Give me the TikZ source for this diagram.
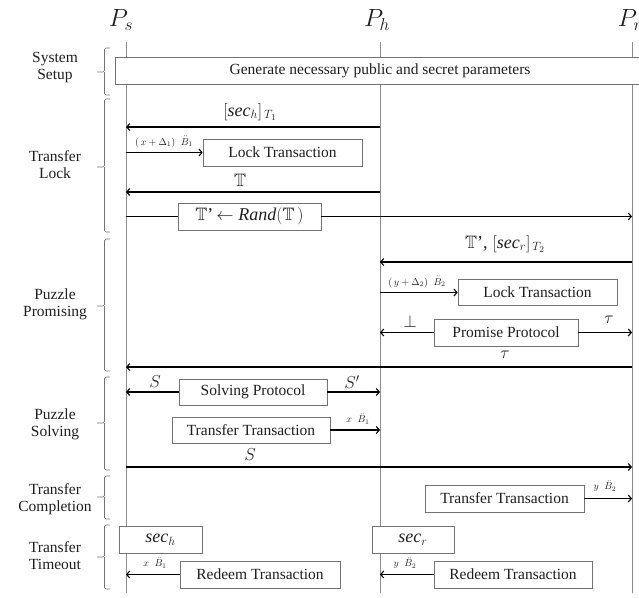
\documentclass[tikz,border=0pt]{standalone}
\usepackage{amssymb}
\usepackage{fontspec}
\setmainfont{Liberation Serif}
\usetikzlibrary{arrows.meta}
\definecolor{lifec}{gray}{0.55}
\definecolor{boxc}{gray}{0.45}
\definecolor{txtc}{gray}{0.12}
\newcommand\fsbox{\fontsize{15.5}{17}\selectfont}
\newcommand\fsmath{\fontsize{18}{20}\selectfont}
\newcommand\fssmall{\fontsize{10}{11}\selectfont}
\newcommand\fshead{\fontsize{24}{28}\selectfont}
\newcommand\Bd[1]{\ddot{B}_{#1}}
\tikzset{
  lifeline/.style={draw=lifec, line width=0.8pt},
  msg/.style={-{Straight Barb[length=3pt,width=7pt]}, line width=1.1pt, draw=black},
  plain/.style={line width=1.1pt, draw=black},
  box/.style={draw=boxc, line width=0.7pt, fill=white, minimum height=26.5pt, inner sep=0pt, font=\fsbox, text=txtc},
  phase/.style={font=\fsbox, align=center, text=txtc},
  bracec/.style={draw=boxc, line width=0.7pt, rounded corners=1.5pt},
  mlbl/.style={font=\fsmath, text=txtc, inner sep=0pt},
  slbl/.style={font=\fssmall, text=txtc, inner sep=0pt},
  head/.style={font=\fshead, text=txtc, inner sep=0pt}
}
\begin{document}
\begin{tikzpicture}[x=1pt,y=-1pt]
\useasboundingbox (0,0) rectangle (639,597);
% heads and lifelines
\node[head] (Ps) at (121,20) {$P_s$};
\node[head] (Ph) at (377,20) {$P_h$};
\node[head] (Pr) at (630,20) {$P_r$};
\coordinate (sT) at (126,42); \coordinate (sB) at (126,593);
\coordinate (hT) at (380,42); \coordinate (hB) at (380,593);
\coordinate (rT) at (632,42); \coordinate (rB) at (632,593);
\draw[lifeline] (sT) -- (sB);
\draw[lifeline] (hT) -- (hB);
\draw[lifeline] (rT) -- (rB);

% phase labels and braces
\node[phase] (ph1) at (55,68) {System\\Setup};
\draw[bracec] (110,48) -- (104.5,48) -- (104.5,72) -- (97,72) (104.5,72) -- (104.5,95) -- (110,95);
\node[phase] (ph2) at (55,165) {Transfer\\Lock};
\draw[bracec] (110,99) -- (104.5,99) -- (104.5,167) -- (97,167) (104.5,167) -- (104.5,232) -- (110,232);
\node[phase] (ph3) at (55,304) {Puzzle\\Promising};
\draw[bracec] (110,239) -- (104.5,239) -- (104.5,306) -- (97,306) (104.5,306) -- (104.5,371) -- (110,371);
\node[phase] (ph4) at (55,424) {Puzzle\\Solving};
\draw[bracec] (110,377) -- (104.5,377) -- (104.5,423) -- (97,423) (104.5,423) -- (104.5,470) -- (110,470);
\node[phase] (ph5) at (55,499) {Transfer\\Completion};
\draw[bracec] (110,476) -- (104.5,476) -- (104.5,497) -- (97,497) (104.5,497) -- (104.5,519) -- (110,519);
\node[phase] (ph6) at (55,556) {Transfer\\Timeout};
\draw[bracec] (110,525) -- (104.5,525) -- (104.5,557) -- (97,557) (104.5,557) -- (104.5,589) -- (110,589);

% system setup
\node[box, minimum width=530] (setup) at (380,71) {Generate necessary public and secret parameters};

% transfer lock
\coordinate (y1) at (0,127);
\draw[msg] (hT |- y1) -- (sT |- y1);
\node[mlbl] (l1) at (250,112) {$[\mathit{sec}_h]_{\,T_1}$};
\node[box, minimum width=159, minimum height=27] (lock1) at (282.5,152.5) {Lock Transaction};
\draw[msg] (lock1.west -| sT) -- (lock1.west);
\node[slbl] (l2) at (164,142) {$(\,x+\Delta_1)\;\;\Bd1$};
\coordinate (y3) at (0,192);
\draw[msg] (hT |- y3) -- (sT |- y3);
\node[mlbl] (l3) at (240,180) {$\mathbb{T}$};
\node[box, minimum width=143, minimum height=27, font=\fsmath] (rand) at (249.5,216.5) {$\mathbb{T}$'\,$\leftarrow \mathit{Rand}(\mathbb{T}\,)$};
\draw[plain] (rand.west -| sT) -- (rand.west);
\draw[msg] (rand.east) -- (rand.east -| rT);

% puzzle promising
\coordinate (y4) at (0,262);
\draw[msg] (rT |- y4) -- (hT |- y4);
\node[mlbl] (l4) at (505,244) {$\mathbb{T}$',\;$[\mathit{sec}_r]_{\,T_2}$};
\node[box, minimum width=159, minimum height=26] (lock2) at (537.5,292.5) {Lock Transaction};
\draw[msg] (lock2.west -| hT) -- (lock2.west);
\node[slbl] (l5) at (417,282) {$(\,y+\Delta_2)\;\;\Bd2$};
\node[box, minimum width=144, minimum height=27] (prom) at (506,332.5) {Promise Protocol};
\draw[msg] (prom.west) -- (prom.west -| hT);
\draw[msg] (prom.east) -- (prom.east -| rT);
\node[mlbl] (l6) at (410,321) {$\perp$};
\node[mlbl] (l7) at (609,320) {$\tau$};
\coordinate (y8) at (0,367);
\draw[msg] (rT |- y8) -- (sT |- y8);
\node[mlbl] (l8) at (505,355) {$\tau$};

% puzzle solving
\node[box, minimum width=148, minimum height=26] (solv) at (253,392) {Solving Protocol};
\draw[msg] (solv.west) -- (solv.west -| sT);
\draw[msg] (solv.east) -- (solv.east -| hT);
\node[mlbl] (l9) at (155,382) {$S$};
\node[mlbl] (l10) at (352,382) {$S'$};
\node[box, minimum width=158, minimum height=26] (tr1) at (251,430) {Transfer Transaction};
\draw[msg] (tr1.east) -- (tr1.east -| hT);
\node[slbl] (l11) at (358,419) {$x\;\;\Bd1$};
\coordinate (y12) at (0,467);
\draw[msg] (sT |- y12) -- (rT |- y12);
\node[mlbl] (l12) at (250,455) {$S$};

% transfer completion
\node[box, minimum width=159, minimum height=27] (tr2) at (504.5,498.5) {Transfer Transaction};
\draw[msg] (tr2.east) -- (tr2.east -| rT);
\node[slbl] (l13) at (605,486) {$y\;\;\Bd2$};

% transfer timeout
\node[box, minimum width=83, minimum height=27, font=\fsmath] (sech) at (160.5,539.5) {$\mathit{sec}_h$};
\node[box, minimum width=160, minimum height=27] (red1) at (260,574.5) {Redeem Transaction};
\draw[msg] (red1.west) -- (red1.west -| sT);
\node[slbl] (l14) at (155,563) {$x\;\;\Bd1$};
\node[box, minimum width=82, minimum height=27, font=\fsmath] (secr) at (413,539.5) {$\mathit{sec}_r$};
\node[box, minimum width=158, minimum height=27] (red2) at (513,574.5) {Redeem Transaction};
\draw[msg] (red2.west) -- (red2.west -| hT);
\node[slbl] (l15) at (405,563) {$y\;\;\Bd2$};
\end{tikzpicture}
\end{document}
